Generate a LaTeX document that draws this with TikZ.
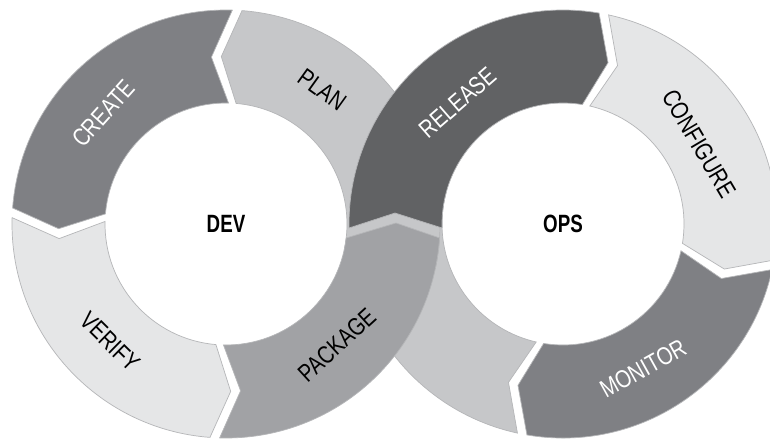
\documentclass[tikz,border=0pt]{standalone}
\usepackage{fontspec}
\newfontfamily\labfont{Liberation Sans}[FakeStretch=0.8]
\newfontfamily\ctrfont{Liberation Sans}[FakeStretch=0.75]
\definecolor{cCreate}{HTML}{7F8084}
\definecolor{cPlan}{HTML}{C6C7C9}
\definecolor{cVerify}{HTML}{E5E6E7}
\definecolor{cPackage}{HTML}{A1A2A5}
\definecolor{cRelease}{HTML}{616264}
\definecolor{cEdge}{HTML}{B5B6B8}
\def\RI{121pt}\def\RO{214pt}\def\RM{167.5pt}
\def\GI{1.8}\def\GM{1.7}\def\GO{1.3}\def\DL{6.3}
% generic ring segment: #1 centre, #2 start angle (tail), #3 end angle (head), #4 direction (+1/-1), #5 style
\newcommand\ringseg[5]{%
  \path[#5,shift={#1}] ({#2+#4*\GI}:\RI) -- ({#2+#4*(\DL+\GM)}:\RM) -- ({#2+#4*\GO}:\RO)
    arc[start angle={#2+#4*\GO}, end angle={#3-#4*\GO}, radius=\RO]
    -- ({#3+#4*(\DL-\GM)}:\RM) -- ({#3-#4*\GI}:\RI)
    arc[start angle={#3-#4*\GI}, end angle={#2+#4*\GI}, radius=\RI] -- cycle;}
\tikzset{
  segbox/.style={draw=cEdge, line width=0.7pt, line join=miter},
  lab/.style={font=\labfont\fontsize{25}{25}\selectfont, inner sep=0pt},
  ctr/.style={font=\ctrfont\bfseries\fontsize{25}{25}\selectfont, inner sep=0pt, text=black},
}
\begin{document}
\begin{tikzpicture}[x=1pt,y=1pt]
\useasboundingbox (0,0) rectangle (770,440);
\clip (0,0) rectangle (770,440);
\fill[white] (0,0) rectangle (770,440);
\coordinate (L) at (226,216);
\coordinate (R) at (563,216);
% --- back band: light segment of OPS ring and PLAN
\path[segbox, fill=cPlan, shift={(R)}] ({259-\GI}:\RI) -- ({259-(\DL+\GM)}:\RM) -- ({259-\GO}:\RO)
   arc[start angle={259-\GO}, end angle=165, radius=\RO] -- (165:\RI)
   arc[start angle=165, end angle={259-\GI}, radius=\RI] -- cycle;
\path[segbox, fill=cPlan, shift={(L)}] (-12:\RI) -- (-12:\RO)
   arc[start angle=-12, end angle={87-\GO}, radius=\RO] -- ({87+\DL-\GM}:\RM) -- ({87-\GI}:\RI)
   arc[start angle={87-\GI}, end angle=-12, radius=\RI] -- cycle;
% --- DEV ring
\ringseg{(L)}{87}{177}{1}{segbox, fill=cCreate}
\ringseg{(L)}{177}{267}{1}{segbox, fill=cVerify}
\path[segbox, fill=cPackage, shift={(L)}] ({267+\GI}:\RI) -- ({267+\DL+\GM}:\RM) -- ({267+\GO}:\RO)
   arc[start angle={267+\GO}, end angle=356.25, radius=\RO] -- (170,1) -- (-6.64:\RI)
   arc[start angle=-6.64, end angle={-93+\GI}, radius=\RI] -- cycle;
% --- OPS ring
\ringseg{(R)}{79}{-11}{-1}{segbox, fill=cVerify}
\ringseg{(R)}{-11}{-101}{-1}{segbox, fill=cCreate}
\path[segbox, fill=cRelease, shift={(R)}] (181.07:\RO) -- (-168,11) -- (181.89:\RI)
   arc[start angle=181.89, end angle={79+\GI}, radius=\RI] -- ({79-(\DL-\GM)}:\RM) -- ({79+\GO}:\RO)
   arc[start angle={79+\GO}, end angle=181.07, radius=\RO] -- cycle;
% --- labels
\node[lab, text=black, rotate=-35.6] (plan) at ([shift={(54.4:165pt)}]L) {PLAN};
\node[lab, text=white, rotate=48] (create) at ([shift={(138:165pt)}]L) {CREATE};
\node[lab, text=black, rotate=-44.5] (verify) at ([shift={(225.5:165pt)}]L) {VERIFY};
\node[lab, text=black, rotate=42.5] (package) at ([shift={(312.5:164pt)}]L) {PACKAGE};
\node[lab, text=white, rotate=41] (release) at ([shift={(131:161pt)}]R) {RELEASE};
\node[lab, text=black, rotate=-59.4] (configure) at ([shift={(30.6:158pt)}]R) {CONFIGURE};
\node[lab, text=white, rotate=29] (monitor) at ([shift={(-61:165pt)}]R) {MONITOR};
\node[ctr] (dev) at (L) {DEV};
\node[ctr] (ops) at (R) {OPS};
\end{tikzpicture}
\end{document}
